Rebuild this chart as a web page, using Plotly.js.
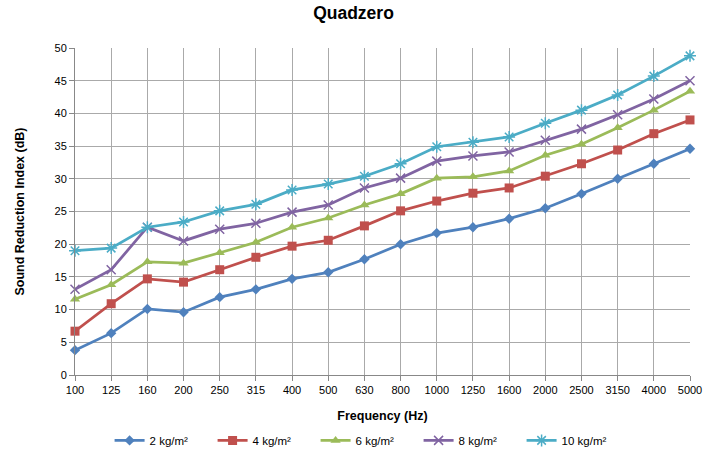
<!DOCTYPE html>
<html><head><meta charset="utf-8">
<script src="https://cdn.plot.ly/plotly-3.0.1.min.js"></script>
<style>html,body{margin:0;padding:0;background:#fff}#chart{width:707px;height:454px}</style>
</head><body><div id="chart"></div>
<script>
const frequencies = ["100","125","160","200","250","315","400","500","630","800","1000","1250","1600","2000","2500","3150","4000","5000"];
const s2kg = [3.8,6.4,10.1,9.6,11.9,13.1,14.7,15.7,17.7,20.0,21.7,22.6,23.9,25.5,27.7,30.0,32.3,34.6];
const s4kg = [6.7,10.9,14.7,14.2,16.1,18.0,19.7,20.6,22.8,25.1,26.6,27.8,28.6,30.4,32.3,34.4,36.9,39.0];
const s6kg = [11.6,13.8,17.3,17.1,18.7,20.3,22.6,24.0,26.0,27.7,30.1,30.3,31.2,33.6,35.3,37.8,40.5,43.4];
const s8kg = [13.1,16.1,22.6,20.5,22.3,23.2,24.9,26.0,28.6,30.1,32.7,33.5,34.1,35.9,37.6,39.8,42.2,45.0];
const s10kg = [19.0,19.4,22.6,23.4,25.1,26.1,28.3,29.2,30.4,32.3,34.9,35.6,36.4,38.5,40.5,42.8,45.7,48.8];
const seriesNames = ["2 kg/m²","4 kg/m²","6 kg/m²","8 kg/m²","10 kg/m²"];

const colors = ["#4F81BD","#C0504D","#9BBB59","#8064A2","#4BACC6"];
const symbols = ["diamond","square","triangle-up","x-thin-open","asterisk-open"];
const sizes = [8,9,9,9,10];
const allSeries = [s2kg,s4kg,s6kg,s8kg,s10kg];

const traces = allSeries.map((ys,i)=>({
  x: frequencies, y: ys, name: seriesNames[i], type:'scatter', mode:'lines+markers',
  cliponaxis:false,
  line:{color:colors[i], width:2.75},
  marker:{symbol:symbols[i], size:sizes[i], color:colors[i], line:{color:colors[i], width: i>=3?1.5:0}}
}));

const layout = {
  width:707, height:454,
  margin:{l:75, r:17, t:48, b:79, autoexpand:false},
  paper_bgcolor:'#fff', plot_bgcolor:'#fff',
  font:{family:'"Liberation Sans", Arial, sans-serif', size:11, color:'#000'},
  title:{text:'<b>Quadzero</b>', font:{size:17.5, color:'#000'}, x:0.5, xanchor:'center', y:0.985, yanchor:'top'},
  xaxis:{type:'category', range:[0,17], showgrid:true, gridcolor:'#aaaaaa', gridwidth:1,
    showline:true, linecolor:'#888', ticks:'outside', ticklen:5, tickcolor:'#888',
    tickfont:{size:11}, title:{text:'<b>Frequency (Hz)</b>', font:{size:12.5}, standoff:16}, zeroline:false, mirror:false},
  yaxis:{range:[0,50], dtick:5, showgrid:true, gridcolor:'#aaaaaa', gridwidth:1,
    showline:true, linecolor:'#888', ticks:'outside', ticklen:5, tickcolor:'#888',
    tickfont:{size:11}, title:{text:'<b>Sound Reduction Index (dB)</b>', font:{size:12.5}, standoff:27}, zeroline:false},
  showlegend:true,
  legend:{orientation:'h', x:0.155, xanchor:'left', xref:'container', y:0.03, yanchor:'middle', yref:'container', font:{size:11.5},
    entrywidth:58, entrywidthmode:'pixels', itemwidth:30}
};
Plotly.newPlot('chart', traces, layout, {displayModeBar:false, staticPlot:true});
</script></body></html>
